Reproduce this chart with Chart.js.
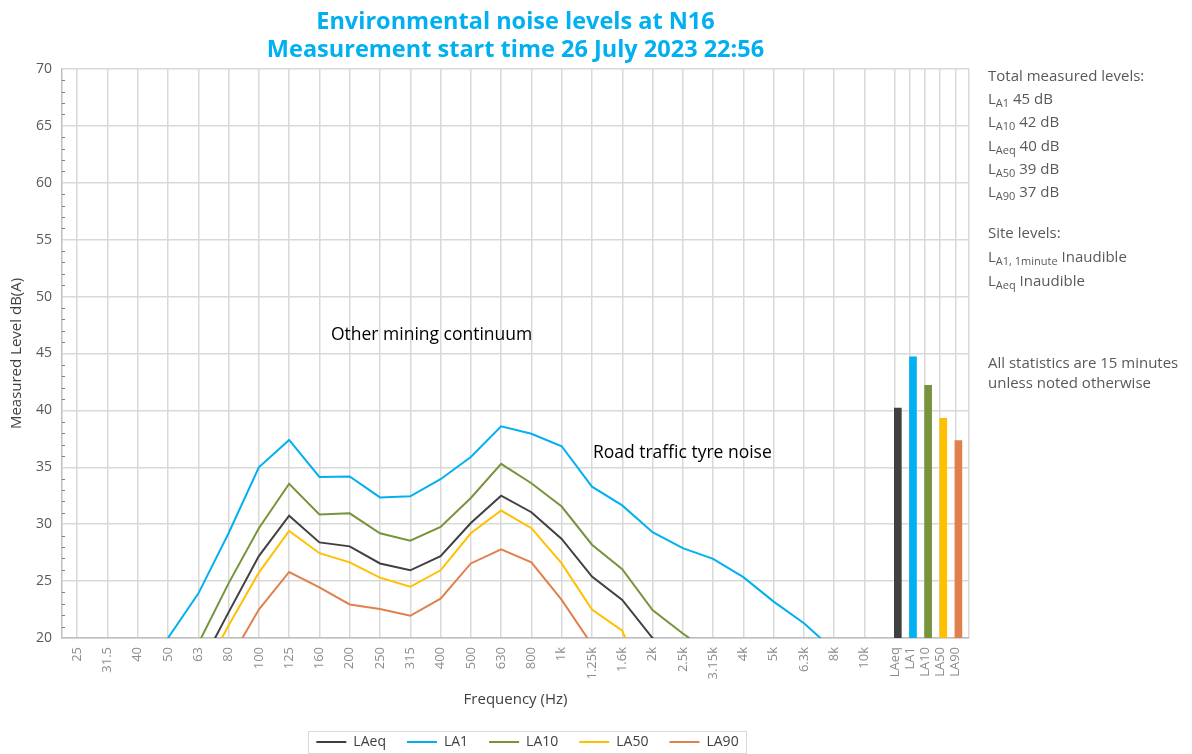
<!DOCTYPE html>
<html>
<head>
<meta charset="utf-8">
<script src="https://cdn.jsdelivr.net/npm/chart.js@4.4.0/dist/chart.umd.min.js"></script>
<style>
html, body { margin: 0; padding: 0; background: #fff; }
#wrap { position: relative; width: 1192px; height: 754px; }
.notes { position: absolute; left: 988px; font-family: 'Open Sans', sans-serif; font-size: 15px; color: #595959; white-space: nowrap; }
.notes sub { font-size: 11px; vertical-align: -3px; line-height: 0; }
</style>
</head>
<body>
<div id="wrap">
  <canvas id="mycanvas" width="1192" height="754"></canvas>
  <div class="notes" id="totalsBox" style="top:64px; line-height:23.2px;"></div>
  <div class="notes" id="siteBox" style="top:220px; line-height:24px;"></div>
  <div class="notes" id="footBox" style="top:352px; line-height:20px;"></div>
</div>
<script>
// one-third octave bands
var freqLabels = ['25', '31.5', '40', '50', '63', '80', '100', '125', '160', '200', '250', '315', '400',
    '500', '630', '800', '1k', '1.25k', '1.6k', '2k', '2.5k', '3.15k', '4k', '5k', '6.3k', '8k', '10k'];

var seriesNames = ['LAeq', 'LA1', 'LA10', 'LA50', 'LA90'];

// dB(A) per band, null where the curve is off the bottom of the chart
var laeq = [null, null, null, null, 17.2, 22.25, 27.2, 30.75, 28.4, 28.05, 26.55, 25.95, 27.2,
    30.1, 32.5, 31.05, 28.7, 25.4, 23.35, 20.0, 17.5, null, null, null, null, null, null];
var la1 = [null, null, null, 20.0, 23.9, 29.2, 35.0, 37.4, 34.15, 34.2, 32.35, 32.45, 33.95,
    35.9, 38.6, 37.95, 36.85, 33.3, 31.65, 29.3, 27.9, 26.95, 25.35, 23.2, 21.3, 18.9, null];
var la10 = [null, null, null, null, 19.5, 24.8, 29.65, 33.55, 30.85, 30.95, 29.2, 28.55, 29.75,
    32.3, 35.3, 33.6, 31.55, 28.2, 26.05, 22.45, 20.4, 18.5, null, null, null, null, null];
var la50 = [null, null, null, null, 16.1, 21.1, 25.75, 29.4, 27.45, 26.65, 25.3, 24.5, 25.95,
    29.2, 31.2, 29.65, 26.55, 22.5, 20.65, 14.0, null, null, null, null, null, null, null];
var la90 = [null, null, null, null, null, 17.9, 22.5, 25.8, 24.45, 22.95, 22.55, 21.95, 23.45,
    26.55, 27.8, 26.65, 23.35, 19.4, null, null, null, null, null, null, null, null, null];

// total measured levels, same order as seriesNames
var totals = [40.2, 44.7, 42.2, 39.3, 37.35];

var totalsOrder = ['LA1', 'LA10', 'LAeq', 'LA50', 'LA90'];
var siteLines = [['LA1, 1minute', 'Inaudible'], ['LAeq', 'Inaudible']];

var colors = ['#404040', '#00B0F0', '#77933C', '#FFC000', '#E0804E'];
var seriesData = [laeq, la1, la10, la50, la90];
var nFreq = freqLabels.length;

function sub(name) {
    return 'L<sub>' + name.substring(1) + '</sub>';
}

// text panel on the right
var html = 'Total measured levels:<br>';
totalsOrder.forEach(function(name) {
    var v = totals[seriesNames.indexOf(name)];
    html += sub(name) + ' ' + Math.round(v) + ' dB<br>';
});
document.getElementById('totalsBox').innerHTML = html;
html = 'Site levels:<br>';
siteLines.forEach(function(s) {
    html += sub(s[0]) + ' ' + s[1] + '<br>';
});
document.getElementById('siteBox').innerHTML = html;
document.getElementById('footBox').innerHTML = 'All statistics are 15 minutes<br>unless noted otherwise';

// x positions: one unit per band, totals at half spacing after the last band
var statPos = seriesNames.map(function(n, k) { return nFreq + k * 0.5; });
var xMax = nFreq + 2.45;
var tickVals = freqLabels.map(function(l, i) { return i; }).concat(statPos, [xMax]);

var datasets = seriesNames.map(function(name, k) {
    return {
        type: 'line',
        label: name,
        data: seriesData[k].map(function(v, i) { return {x: i, y: v}; }),
        borderColor: colors[k],
        backgroundColor: colors[k],
        borderWidth: 2,
        pointRadius: 0,
        tension: 0,
        order: 1
    };
});
datasets.push({
    type: 'bar',
    label: 'Totals',
    data: totals.map(function(v, k) { return {x: statPos[k] + 0.1, y: v}; }),
    backgroundColor: colors,
    barThickness: 7,
    order: 2
});

var extras = {
    id: 'extras',
    afterLayout: function(chart) {
        // legend sits a little right of the plot centre in the original
        chart.legend.left += 12;
        chart.legend.right += 12;
    },
    afterDraw: function(chart) {
        var ctx = chart.ctx;
        var xs = chart.scales.x, ys = chart.scales.y;
        ctx.save();
        // minor ticks on the value axis
        ctx.strokeStyle = '#7F7F7F';
        ctx.lineWidth = 1;
        for (var v = 21; v < 70; v++) {
            if (v % 5 === 0) continue;
            var py = Math.round(ys.getPixelForValue(v)) + 0.5;
            ctx.beginPath();
            ctx.moveTo(xs.left, py);
            ctx.lineTo(xs.left + 3, py);
            ctx.stroke();
        }
        // notes inside the plot
        ctx.fillStyle = '#000';
        ctx.font = '17.5px "Open Sans"';
        ctx.textAlign = 'left';
        ctx.textBaseline = 'middle';
        ctx.fillText('Other mining continuum', xs.getPixelForValue(8.38), ys.getPixelForValue(46.6));
        ctx.fillText('Road traffic tyre noise', xs.getPixelForValue(17.03), ys.getPixelForValue(36.25));
        // legend frame
        var boxes = chart.legend.legendHitBoxes;
        if (boxes && boxes.length) {
            var l = boxes[0].left, r = boxes[boxes.length - 1].left + boxes[boxes.length - 1].width;
            var t = boxes[0].top, h = boxes[0].height;
            ctx.strokeStyle = '#D9D9D9';
            ctx.lineWidth = 1;
            ctx.strokeRect(Math.round(l - 8) + 0.5, Math.round(t - 4) + 0.5, Math.round(r - l + 16), Math.round(h + 8));
        }
        ctx.restore();
    }
};

var ctx = document.getElementById('mycanvas');

var noiseChart = new Chart(ctx, {
    type: 'line',
    data: {datasets: datasets},
    plugins: [extras],
    options: {
        responsive: false,
        animation: false,
        layout: {padding: {left: 0, right: 223, top: 0, bottom: -5}},
        plugins: {
            title: {
                display: true,
                fullSize: false,
                text: ['Environmental noise levels at N16', 'Measurement start time 26 July 2023 22:56'],
                color: '#00B0F0',
                font: {family: 'Open Sans', size: 23.5, weight: 'bold', lineHeight: 1.19},
                padding: {top: 8, bottom: 5}
            },
            legend: {
                position: 'bottom',
                fullSize: false,
                labels: {
                    filter: function(item) { return item.datasetIndex < seriesNames.length; },
                    usePointStyle: true,
                    pointStyle: 'line',
                    pointStyleWidth: 30,
                    color: '#404040',
                    font: {family: 'Open Sans', size: 14},
                    padding: 21
                }
            },
            tooltip: {enabled: false}
        },
        scales: {
            x: {
                type: 'linear',
                min: -0.5,
                max: xMax,
                offset: false,
                afterBuildTicks: function(scale) {
                    scale.ticks = tickVals.map(function(v) { return {value: v}; });
                },
                afterFit: function(scale) { scale.height = 76; },
                ticks: {
                    autoSkip: false,
                    minRotation: 90,
                    maxRotation: 90,
                    padding: 9,
                    color: '#8C8C8C',
                    font: {family: 'Open Sans', size: 13},
                    callback: function(value) {
                        if (value < nFreq) return freqLabels[value];
                        var k = Math.round((value - nFreq) / 0.5);
                        return k < seriesNames.length ? seriesNames[k] : '';
                    }
                },
                grid: {color: '#D9D9D9', lineWidth: 1.5, drawTicks: false, offset: false},
                border: {color: '#BFBFBF', width: 1.5},
                title: {
                    display: true,
                    text: 'Frequency (Hz)',
                    color: '#404040',
                    font: {family: 'Open Sans', size: 15},
                    padding: {top: 4, bottom: 5}
                }
            },
            y: {
                min: 20,
                max: 70,
                afterFit: function(scale) { scale.width = 62; },
                ticks: {
                    stepSize: 5,
                    padding: 10,
                    color: '#595959',
                    font: {family: 'Open Sans', size: 14}
                },
                grid: {color: '#D9D9D9', lineWidth: 1.5, drawTicks: false},
                border: {color: '#BFBFBF', width: 1.5},
                title: {
                    display: true,
                    text: 'Measured Level dB(A)',
                    color: '#404040',
                    font: {family: 'Open Sans', size: 15},
                    padding: {top: 8, bottom: 0}
                }
            }
        }
    }
});
</script>
</body>
</html>
